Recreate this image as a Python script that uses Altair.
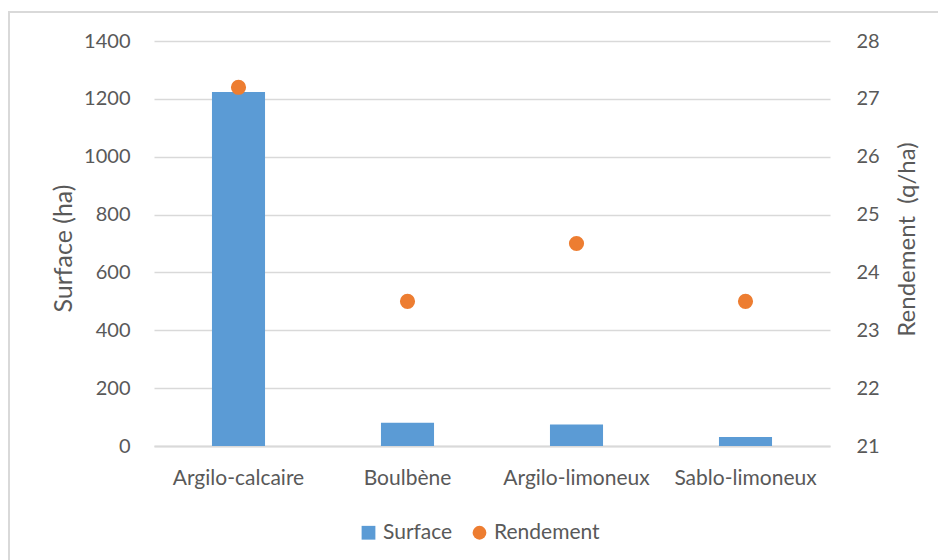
import altair as alt
import pandas as pd

# Soil types, cultivated area and yield
categories = ["Argilo-calcaire", "Boulbène", "Argilo-limoneux", "Sablo-limoneux"]
surface_ha = [1224, 80, 74, 31]
rendement_qha = [27.2, 23.5, 24.5, 23.5]

series_names = ["Surface", "Rendement"]
series_colors = ["#5b9bd5", "#ed7d31"]
series_shapes = ["square", "circle"]

df = pd.DataFrame({
    "sol": categories,
    "surface": surface_ha,
    "rendement": rendement_qha,
    "serie_s": ["Surface"] * len(categories),
    "serie_r": ["Rendement"] * len(categories),
})

FONT = "Lato"
TXT = "#595959"
GRID = "#d9d9d9"

x_enc = alt.X(
    "sol:N",
    sort=categories,
    scale=alt.Scale(paddingInner=0.686, paddingOuter=0.343),
    axis=alt.Axis(title=None, labelAngle=0, ticks=False, domain=True,
                  domainColor=GRID, domainWidth=2, labelPadding=21,
                  labelFontSize=21, labelColor=TXT, labelFont=FONT),
)

color_scale = alt.Scale(domain=series_names, range=series_colors)
shape_scale = alt.Scale(domain=series_names, range=series_shapes)
legend = alt.Legend(title=None, orient="none", direction="horizontal",
                    legendX=204, legendY=481,
                    labelFontSize=21, labelColor=TXT, labelFont=FONT,
                    symbolSize=190, symbolStrokeWidth=0, columnPadding=16,
                    labelOffset=4)

bars = alt.Chart(df).mark_bar(strokeWidth=0).encode(
    x=x_enc,
    y=alt.Y("surface:Q",
            scale=alt.Scale(domain=[0, 1400], nice=False),
            axis=alt.Axis(title="Surface (ha)", values=list(range(0, 1401, 200)),
                          format="d", orient="left", ticks=False, domain=False,
                          grid=True, gridColor=GRID, gridWidth=1.5,
                          labelPadding=24, labelFontSize=20, labelColor=TXT,
                          labelFont=FONT, titleFontSize=25, titleColor=TXT,
                          titleFont=FONT, titleFontWeight="normal",
                          titleAngle=270, titleX=-91, titleY=207,
                          titleAlign="center", titleBaseline="middle")),
    color=alt.Color("serie_s:N", scale=color_scale, legend=legend),
    shape=alt.Shape("serie_s:N", scale=shape_scale, legend=legend),
)

points = alt.Chart(df).mark_point(filled=True, size=230, opacity=1).encode(
    x=x_enc,
    y=alt.Y("rendement:Q",
            scale=alt.Scale(domain=[21, 28], nice=False, zero=False),
            axis=alt.Axis(title="Rendement \u00a0(q/ha)", values=list(range(21, 29)),
                          format="d", orient="right", ticks=False, domain=False,
                          grid=False, labelPadding=26, labelFontSize=20,
                          labelColor=TXT, labelFont=FONT, titleFontSize=24,
                          titleColor=TXT, titleFont=FONT, titleAngle=270,
                          titleX=77, titleY=198, titleAlign="center",
                          titleBaseline="middle", titleFontWeight="normal")),
    color=alt.Color("serie_r:N", scale=color_scale, legend=legend),
    shape=alt.Shape("serie_r:N", scale=shape_scale, legend=legend),
)

# Light frame around the whole chart
frame = alt.Chart(df).mark_rect(fill=None, stroke=GRID, strokeWidth=2).encode(
    x=alt.value(-145), x2=alt.value(800), y=alt.value(-29), y2=alt.value(540)
)

chart = alt.layer(frame, bars, points).resolve_scale(
    y="independent"
).properties(
    width=676, height=405,
    padding={"left": 154, "top": 41, "right": 108, "bottom": 114},
    autosize=alt.AutoSizeParams(type="none"),
    background="white",
).configure_view(stroke=None)

chart.save("out.html", embed_options={"renderer": "svg", "actions": False})
